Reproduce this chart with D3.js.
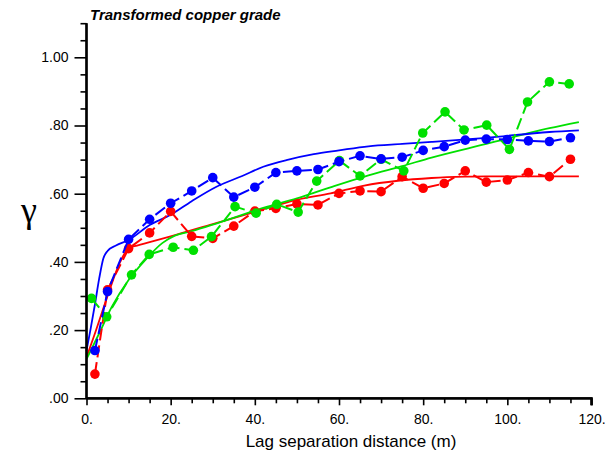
<!DOCTYPE html>
<html><head><meta charset="utf-8">
<script src="https://cdn.jsdelivr.net/npm/d3@7"></script>
<style>body{margin:0;background:#fff}svg{display:block}</style>
</head><body>
<svg id="c" width="608" height="455"></svg>
<script>
// ---- data ----
const blueLag = [2,5,10,15,20,25,30,35,40,45,50,55,60,65,70,75,80,85,90,95,100,105,110,115];
const blueGamma = [0.14,0.313,0.466,0.525,0.572,0.608,0.647,0.590,0.619,0.662,0.667,0.671,0.694,0.711,0.702,0.707,0.727,0.738,0.757,0.760,0.759,0.755,0.753,0.764];
const redLag = [2,5,10,15,20,25,30,35,40,45,50,55,60,65,70,75,80,85,90,95,100,105,110,115];
const redGamma = [0.071,0.318,0.439,0.485,0.548,0.475,0.469,0.505,0.549,0.557,0.570,0.567,0.601,0.608,0.606,0.650,0.616,0.630,0.667,0.634,0.640,0.662,0.650,0.701];
const greenLag = [1.2,4.8,10.7,14.9,20.6,25.4,29.7,35.3,40.3,45.2,50.3,54.7,60.1,65,70,75.4,79.9,85.2,89.7,95.1,100.5,104.8,110,114.7];
const greenGamma = [0.293,0.239,0.362,0.422,0.443,0.434,0.474,0.562,0.543,0.569,0.546,0.637,0.697,0.652,0.701,0.667,0.778,0.840,0.787,0.801,0.730,0.869,0.928,0.922];

const blueModelLag = [0,1,2,3,4,5,7,10,15,20,25,31,37,42,48,54,60,67,75,82,95,110,117];
const blueModelGamma = [0.14,0.205,0.275,0.35,0.41,0.432,0.448,0.464,0.508,0.538,0.578,0.621,0.652,0.679,0.700,0.716,0.727,0.739,0.746,0.752,0.764,0.781,0.786];
const redModelLag = [0,2,5,8,10,12,15,20,30,40,50,58,66,74,82,90,95,100,117];
const redModelGamma = [0.12,0.19,0.30,0.40,0.44,0.448,0.458,0.475,0.511,0.547,0.582,0.601,0.624,0.638,0.646,0.650,0.651,0.651,0.651];
const greenModelLag = [0,3,6,10,14,18,21,25,31,43,51,59,67,75,82,95,110,117];
const greenModelGamma = [0.115,0.19,0.268,0.347,0.406,0.455,0.477,0.490,0.513,0.562,0.590,0.623,0.654,0.681,0.706,0.746,0.792,0.810];

const xMajor = [0,20,40,60,80,100,120];
const xTickLabels = ["0.","20.","40.","60.","80.","100.","120."];
const yMajor = [0,0.2,0.4,0.6,0.8,1.0];
const yTickLabels = [".00",".20",".40",".60",".80","1.00"];

const titleText = "Transformed copper grade";
const xTitle = "Lag separation distance (m)";
const yTitle = "γ";

// ---- drawing ----
const svg = d3.select("#c");
const x = d3.scaleLinear().domain([0,120]).range([86.5,591.5]);
const y = d3.scaleLinear().domain([0,1.1]).range([398.3,23.2]);

const series = [
  {lag: redLag, g: redGamma, mLag: redModelLag, mg: redModelGamma, color: "#ff0000"},
  {lag: greenLag, g: greenGamma, mLag: greenModelLag, mg: greenModelGamma, color: "#00e000"},
  {lag: blueLag, g: blueGamma, mLag: blueModelLag, mg: blueModelGamma, color: "#0000ff"}
];

const line = d3.line().x(d=>x(d[0])).y(d=>y(d[1]));
const curve = d3.line().x(d=>x(d[0])).y(d=>y(d[1])).curve(d3.curveMonotoneX);

// model curves
series.forEach(s=>{
  svg.append("path").datum(s.mLag.map((h,i)=>[h,s.mg[i]]))
    .attr("d",curve).attr("fill","none").attr("stroke",s.color).attr("stroke-width",1.8);
});
// experimental variograms
series.forEach(s=>{
  const pts = s.lag.map((h,i)=>[h,s.g[i]]);
  svg.append("path").datum(pts).attr("d",line).attr("fill","none")
    .attr("stroke",s.color).attr("stroke-width",2).attr("stroke-dasharray","12,5");
  svg.append("g").selectAll("circle").data(pts).join("circle")
    .attr("cx",d=>x(d[0])).attr("cy",d=>y(d[1])).attr("r",4.8).attr("fill",s.color);
});

// axes
const font = "Liberation Sans, Arial, sans-serif";
const xAxis = d3.axisBottom(x).tickValues(xMajor).tickSize(7).tickFormat((d,i)=>xTickLabels[i]);
const gx = svg.append("g").attr("transform",`translate(0,${y(0)})`).call(xAxis);
gx.append("g").call(d3.axisBottom(x).tickValues(d3.range(0,121,5).filter(v=>v%20)).tickSize(5).tickFormat(""));
const yAxis = d3.axisLeft(y).tickValues(yMajor).tickSize(12).tickFormat((d,i)=>yTickLabels[i]);
const gy = svg.append("g").attr("transform",`translate(${x(0)},0)`).call(yAxis);
gy.append("g").call(d3.axisLeft(y).tickValues(d3.range(1,23).map(v=>v*0.05).filter(v=>Math.abs(v/0.2-Math.round(v/0.2))>0.01)).tickSize(6).tickFormat(""));
[gx,gy].forEach(g=>{
  g.selectAll(".domain").attr("stroke","#000").attr("stroke-width",2.2);
  g.selectAll("line").attr("stroke","#000").attr("stroke-width",1.6);
  g.selectAll("text").attr("fill","#000").style("font-family",font).style("font-size","14px");
});
gx.selectAll(".domain").attr("d",`M${x(0)},0H${x(120)}V7`);
gy.selectAll(".domain").attr("d",`M0,${y(1.1)}V${y(0)}`);
gx.selectAll("text").attr("y",12).attr("dy","0.95em");
gy.selectAll("text").attr("x",-18);

svg.append("text").attr("x",90).attr("y",20).text(titleText)
  .style("font-family",font).style("font-size","15px").style("font-weight","bold").style("font-style","italic");
svg.append("text").attr("x",351).attr("y",447).attr("text-anchor","middle").text(xTitle)
  .style("font-family",font).style("font-size","17px");
svg.append("text").attr("x",29).attr("y",222).attr("text-anchor","middle").text(yTitle)
  .style("font-family","Liberation Serif, Times New Roman, serif").style("font-size","36px");
</script>
</body></html>
